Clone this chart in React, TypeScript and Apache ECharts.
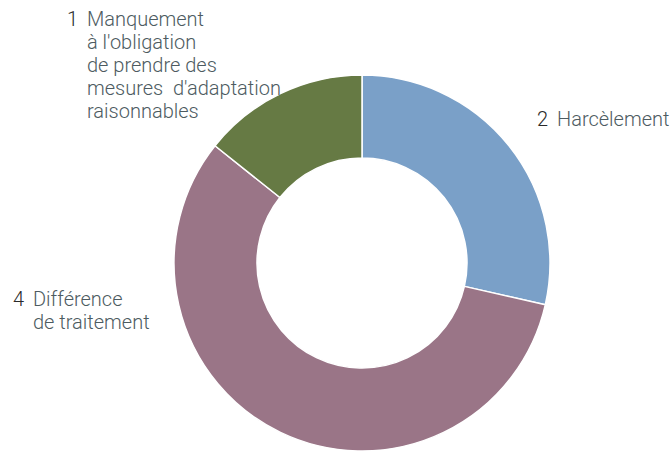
import React, { useEffect, useRef } from "react";
import * as echarts from "echarts";

// Data
const categories = ["Harcèlement", "Différence\nde traitement", "Manquement\nà l'obligation\nde prendre des\nmesures  d'adaptation\nraisonnables"];
const values = [2, 4, 1];
const colors = ["#7AA0C8", "#9A7587", "#667A44"];

// Label anchor positions (left edge, vertical middle), in px
const labelAnchors = [
  { x: 537, y: 119 },
  { x: 13, y: 310 },
  { x: 67, y: 65 },
];

function formatLabel(value: number, name: string): string {
  const lines = name.split("\n");
  return lines
    .map((ln, i) => (i === 0 ? `{n|${value}}{t|${ln}}` : `{s| }{t|${ln}}`))
    .join("\n");
}

export default function App() {
  const ref = useRef<HTMLDivElement>(null);
  useEffect(() => {
    if (!ref.current) return;
    const chart = echarts.init(ref.current, undefined, { renderer: "svg" });
    chart.setOption({
      animation: false,
      backgroundColor: "#ffffff",
      series: [
        {
          type: "pie",
          center: [362, 263],
          radius: [105, 188],
          startAngle: 90,
          clockwise: true,
          avoidLabelOverlap: false,
          itemStyle: { borderColor: "#ffffff", borderWidth: 1.5 },
          labelLine: { show: false },
          label: {
            show: true,
            position: "outside",
            formatter: (p: any) => formatLabel(p.value, p.name),
            fontFamily: "Roboto",
            rich: {
              n: { width: 20, fontSize: 20, lineHeight: 23, color: "#2a2a2a", fontFamily: "Roboto", fontWeight: 300 },
              s: { width: 20, fontSize: 20, lineHeight: 23, fontFamily: "Roboto" },
              t: { fontSize: 20, lineHeight: 23, color: "#4d5b61", fontFamily: "Roboto", fontWeight: 300 },
            },
          },
          labelLayout: (params: any) => {
            const a = labelAnchors[params.dataIndex];
            return { x: a.x, y: a.y, align: "left", verticalAlign: "middle", moveOverlap: undefined };
          },
          emphasis: { disabled: true },
          data: values.map((v, i) => ({
            value: v,
            name: categories[i],
            itemStyle: { color: colors[i] },
          })),
        },
      ],
    });
    return () => chart.dispose();
  }, []);
  return (
    <div
      ref={ref}
      style={{ position: "fixed", left: 0, top: 0, width: 671, height: 451 }}
    />
  );
}
